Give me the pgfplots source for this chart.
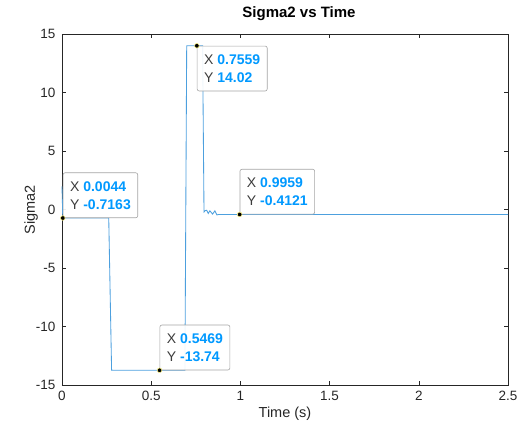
\documentclass[border=0pt]{standalone}
\usepackage{fontspec}
\setmainfont{Liberation Sans}
\usepackage{pgfplots}
\pgfplotsset{compat=1.18}
\definecolor{lineblue}{RGB}{77,160,222}
\definecolor{tipblue}{RGB}{0,153,255}
\definecolor{axgray}{RGB}{38,38,38}
\definecolor{tipborder}{RGB}{165,165,165}
\definecolor{tiptext}{RGB}{60,60,60}
\tikzset{tip/.style={draw=tipborder, fill=white, fill opacity=0.92, text opacity=1, rounded corners=2pt,
  inner xsep=7pt, inner ysep=8.5pt, align=left, text=tiptext, font=\fontsize{14}{18}\selectfont, line width=0.6pt}}
\newcommand{\tipv}[1]{\textbf{\color{tipblue}#1}}
\begin{document}
\begin{tikzpicture}
\begin{axis}[
  scale only axis, width=446pt, height=350.7pt,
  xmin=0, xmax=2.5, ymin=-15, ymax=15,
  xtick={0,0.5,1,1.5,2,2.5}, xticklabels={0,0.5,1,1.5,2,2.5},
  ytick={-15,-10,-5,0,5,10,15},
  tick align=inside, tick pos=both, major tick length=4pt,
  axis line style={axgray, line width=0.6pt},
  every tick/.style={axgray, line width=0.6pt},
  ticklabel style={font=\fontsize{13.5}{15}\selectfont, text=axgray},
  xticklabel style={yshift=-3pt},
  yticklabel style={xshift=-3pt},
  /pgf/number format/assume math mode=true,
  title={\textbf{Sigma2 vs Time}},
  title style={font=\fontsize{15}{17}\selectfont, at={(0.5,1)}, anchor=base, yshift=11pt, xshift=14pt},
  xlabel={Time (s)}, ylabel={Sigma2},
  label style={font=\fontsize{14.5}{16}\selectfont, text=axgray},
  xlabel style={at={(axis description cs:0.5,0)}, anchor=base, yshift=-33pt},
  ylabel style={at={(axis description cs:0,0.5)}, anchor=base, yshift=27pt},
  clip=false,
]
\addplot[lineblue, line width=0.85pt] coordinates {
 (0,2.0) (0.0044,-0.7163) (0.262,-0.72) (0.278,-13.74) (0.5469,-13.74) (0.689,-13.74)
 (0.699,14.02) (0.7559,14.02) (0.788,14.02) (0.796,-0.2) (0.803,-0.08) (0.811,-0.05)
 (0.820,-0.32) (0.829,-0.1) (0.844,-0.38) (0.857,-0.1) (0.868,-0.45) (0.880,-0.41)
 (0.9959,-0.4121) (2.5,-0.41)
};
\node[tip, anchor=south west] at (axis cs:0.0044,-0.7163) {X \tipv{0.0044}\\Y \tipv{-0.7163}};
\node[tip, anchor=north west] at (axis cs:0.7559,14.02) {X \tipv{0.7559}\\Y \tipv{14.02}};
\node[tip, anchor=south west] at (axis cs:0.9959,-0.4121) {X \tipv{0.9959}\\Y \tipv{-0.4121}};
\node[tip, anchor=south west] at (axis cs:0.5469,-13.74) {X \tipv{0.5469}\\Y \tipv{-13.74}};
\addplot[only marks, mark=*, mark size=2.3pt, mark options={fill=black, draw=yellow!50, line width=0.5pt}] coordinates {
 (0.0044,-0.7163) (0.7559,14.02) (0.9959,-0.4121) (0.5469,-13.74)
};
\end{axis}
\path (current axis.south west) ++(-62pt,-46pt) coordinate (bbsw);
\path (current axis.north east) ++(15pt,34.3pt) coordinate (bbne);
\path (bbsw) rectangle (bbne);
\end{tikzpicture}
\end{document}
